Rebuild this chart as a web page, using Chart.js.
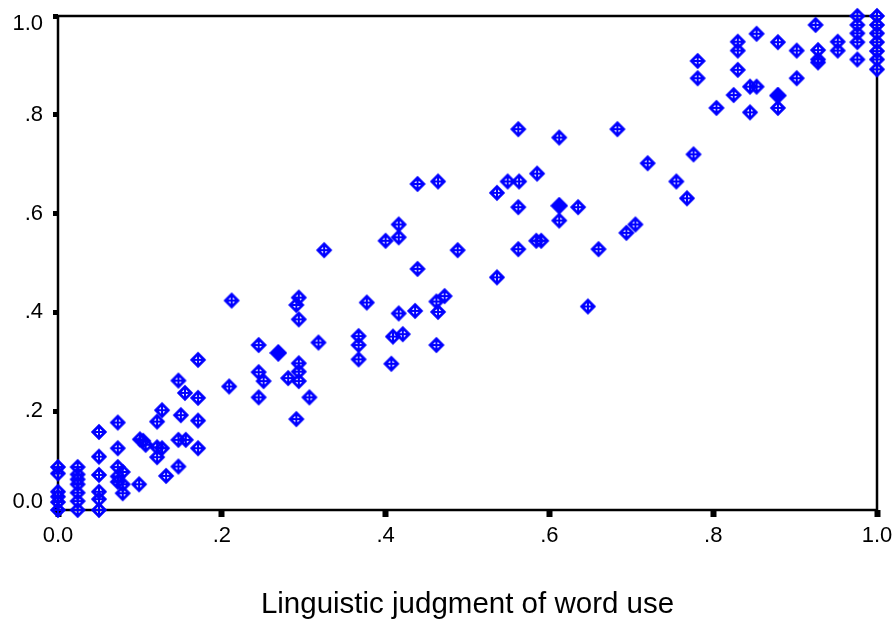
<!DOCTYPE html>
<html>
<head>
<meta charset="utf-8">
<script src="https://cdn.jsdelivr.net/npm/chart.js@4.4.1/dist/chart.umd.min.js"></script>
<style>
  html, body { margin: 0; padding: 0; background: #fff; }
  #wrap { width: 893px; height: 621px; }
</style>
</head>
<body>
<div id="wrap"><canvas id="wordUse"></canvas></div>
<script>
// one entry per word: linguistic judgment (x) against the other measure (y)
const judgeX = [
  0, 0, 0, 0, 0, 0,
  0.024, 0.024, 0.024, 0.024, 0.024, 0.024, 0.024,
  0.05, 0.05, 0.05, 0.05, 0.05, 0.05,
  0.073, 0.073, 0.073, 0.073, 0.073, 0.079, 0.079, 0.079,
  0.099, 0.1, 0.104, 0.107, 0.121, 0.127, 0.121, 0.127, 0.121, 0.132,
  0.147, 0.155, 0.171, 0.15, 0.171, 0.147, 0.156, 0.171, 0.147, 0.171,
  0.325, 0.212, 0.294, 0.291, 0.294, 0.245, 0.318, 0.294, 0.245, 0.294,
  0.251, 0.281, 0.294, 0.209, 0.245, 0.307, 0.291,
  0.439, 0.464, 0.416, 0.4, 0.416, 0.488, 0.439, 0.377, 0.472, 0.462,
  0.464, 0.416, 0.436, 0.367, 0.367, 0.409, 0.421, 0.462, 0.367, 0.407,
  0.562, 0.612, 0.683, 0.72, 0.585, 0.549, 0.563, 0.536, 0.562, 0.635, 0.612,
  0.755, 0.768, 0.705, 0.694, 0.584, 0.59, 0.562, 0.66, 0.536, 0.647,
  0.976, 0.976, 0.976, 0.976, 0.976,
  1, 1, 1, 1, 1, 1, 1,
  0.925, 0.952, 0.952, 0.928, 0.928, 0.928, 0.902, 0.902, 0.879, 0.853, 0.83,
  0.83, 0.83, 0.781, 0.781, 0.845, 0.853, 0.879, 0.825, 0.804, 0.845, 0.776
];
const measureY = [
  0.087, 0.074, 0.037, 0.027, 0.016, 0,
  0.087, 0.072, 0.062, 0.052, 0.035, 0.018, 0,
  0.158, 0.108, 0.071, 0.037, 0.022, 0,
  0.177, 0.125, 0.087, 0.068, 0.057, 0.077, 0.052, 0.034,
  0.052, 0.143, 0.14, 0.132, 0.179, 0.202, 0.127, 0.125, 0.107, 0.069,
  0.262, 0.237, 0.227, 0.192, 0.181, 0.142, 0.142, 0.125, 0.088, 0.304,
  0.526, 0.424, 0.43, 0.415, 0.386, 0.334, 0.339, 0.297, 0.279, 0.28,
  0.261, 0.267, 0.261, 0.25, 0.228, 0.228, 0.184,
  0.66, 0.665, 0.578, 0.545, 0.552, 0.526, 0.488, 0.42, 0.433, 0.422,
  0.401, 0.398, 0.403, 0.352, 0.334, 0.351, 0.356, 0.334, 0.305, 0.296,
  0.771, 0.754, 0.771, 0.702, 0.681, 0.665, 0.665, 0.642, 0.613, 0.613, 0.586,
  0.665, 0.631, 0.578, 0.561, 0.545, 0.545, 0.528, 0.528, 0.471, 0.412,
  1, 0.982, 0.965, 0.947, 0.912,
  1, 0.982, 0.965, 0.947, 0.929, 0.912, 0.892,
  0.982, 0.948, 0.93, 0.931, 0.912, 0.906, 0.93, 0.874, 0.947, 0.964, 0.948,
  0.93, 0.891, 0.909, 0.874, 0.857, 0.857, 0.814, 0.84, 0.814, 0.805, 0.72
];
// group means (solid markers)
const meanX = [0.269, 0.612, 0.879];
const meanY = [0.318, 0.616, 0.839];

const tickValues = [0, 0.2, 0.4, 0.6, 0.8, 1];
const tickLabels = ["0.0", ".2", ".4", ".6", ".8", "1.0"];
const xTitle = "Linguistic judgment of word use";

const blue = "#0000ff";

function diamondMark(filled) {
    const c = document.createElement("canvas");
    c.width = 18; c.height = 18;
    const g = c.getContext("2d");
    g.strokeStyle = blue;
    g.fillStyle = blue;
    g.lineWidth = 2.8;
    g.beginPath();
    g.moveTo(9, 2.8); g.lineTo(15.2, 9); g.lineTo(9, 15.2); g.lineTo(2.8, 9);
    g.closePath();
    if (filled) {
        g.lineWidth = 2.2;
        g.moveTo(9, 1.5); g.lineTo(16.5, 9); g.lineTo(9, 16.5); g.lineTo(1.5, 9);
        g.closePath();
        g.fill();
        g.stroke();
    } else {
        g.stroke();
        g.lineWidth = 2;
        g.beginPath();
        g.moveTo(9, 4.5); g.lineTo(9, 13.5);
        g.moveTo(4.5, 9); g.lineTo(13.5, 9);
        g.stroke();
    }
    return c;
}

const plotBox = {
    id: "plotBox",
    beforeDatasetsDraw(chart) {
        const a = chart.chartArea;
        const ctx = chart.ctx;
        ctx.save();
        ctx.strokeStyle = "#000";
        ctx.lineWidth = 2.5;
        ctx.strokeRect(a.left, a.top, a.right - a.left, a.bottom - a.top);
        ctx.restore();
    }
};

const fontFamily = "'Liberation Sans', Arial, sans-serif";

function fixedTicks(axis) {
    axis.ticks = tickValues.map(v => ({value: v}));
}
function tickText(value) {
    const i = tickValues.findIndex(v => Math.abs(v - value) < 1e-9);
    return i >= 0 ? tickLabels[i] : "";
}
// end labels on the vertical axis sit inside the range, like the original
function yTickText(value) {
    const t = tickText(value);
    if (value === 1) return ["", t];
    if (value === 0) return [t, ""];
    return t;
}

new Chart("wordUse", {
    type: "scatter",
    data: {
        datasets: [{
            data: judgeX.map((x, i) => ({x: x, y: measureY[i]})),
            pointStyle: diamondMark(false),
            clip: false
        }, {
            data: meanX.map((x, i) => ({x: x, y: meanY[i]})),
            pointStyle: diamondMark(true),
            clip: false
        }]
    },
    options: {
        responsive: true,
        maintainAspectRatio: false,
        animation: false,
        events: [],
        layout: {padding: {top: 16, right: 16, left: 0, bottom: 0}},
        plugins: {
            legend: {display: false},
            tooltip: {enabled: false}
        },
        scales: {
            x: {
                type: "linear",
                min: 0, max: 1,
                afterBuildTicks: fixedTicks,
                afterFit: (s) => { s.height = 111; s.paddingLeft = 0; s.paddingRight = 0; },
                border: {display: false},
                grid: {drawOnChartArea: false, tickLength: 7, tickWidth: 6, tickColor: "#000"},
                ticks: {
                    color: "#000", font: {family: fontFamily, size: 22}, padding: 6, maxRotation: 0,
                    autoSkip: false, callback: tickText
                },
                title: {
                    display: true, text: xTitle, color: "#000",
                    font: {family: fontFamily, size: 29.5, lineHeight: 1},
                    padding: {top: 0, bottom: 1}
                }
            },
            y: {
                type: "linear",
                min: 0, max: 1,
                afterBuildTicks: fixedTicks,
                afterFit: (s) => { s.width = 58; s.paddingTop = 0; s.paddingBottom = 0; },
                border: {display: false},
                grid: {drawOnChartArea: false, tickLength: 5, tickWidth: 5, tickColor: "#000"},
                ticks: {
                    color: "#000", font: {family: fontFamily, size: 22, lineHeight: 0.7}, padding: 10,
                    autoSkip: false, callback: yTickText
                }
            }
        }
    },
    plugins: [plotBox]
});
</script>
</body>
</html>
